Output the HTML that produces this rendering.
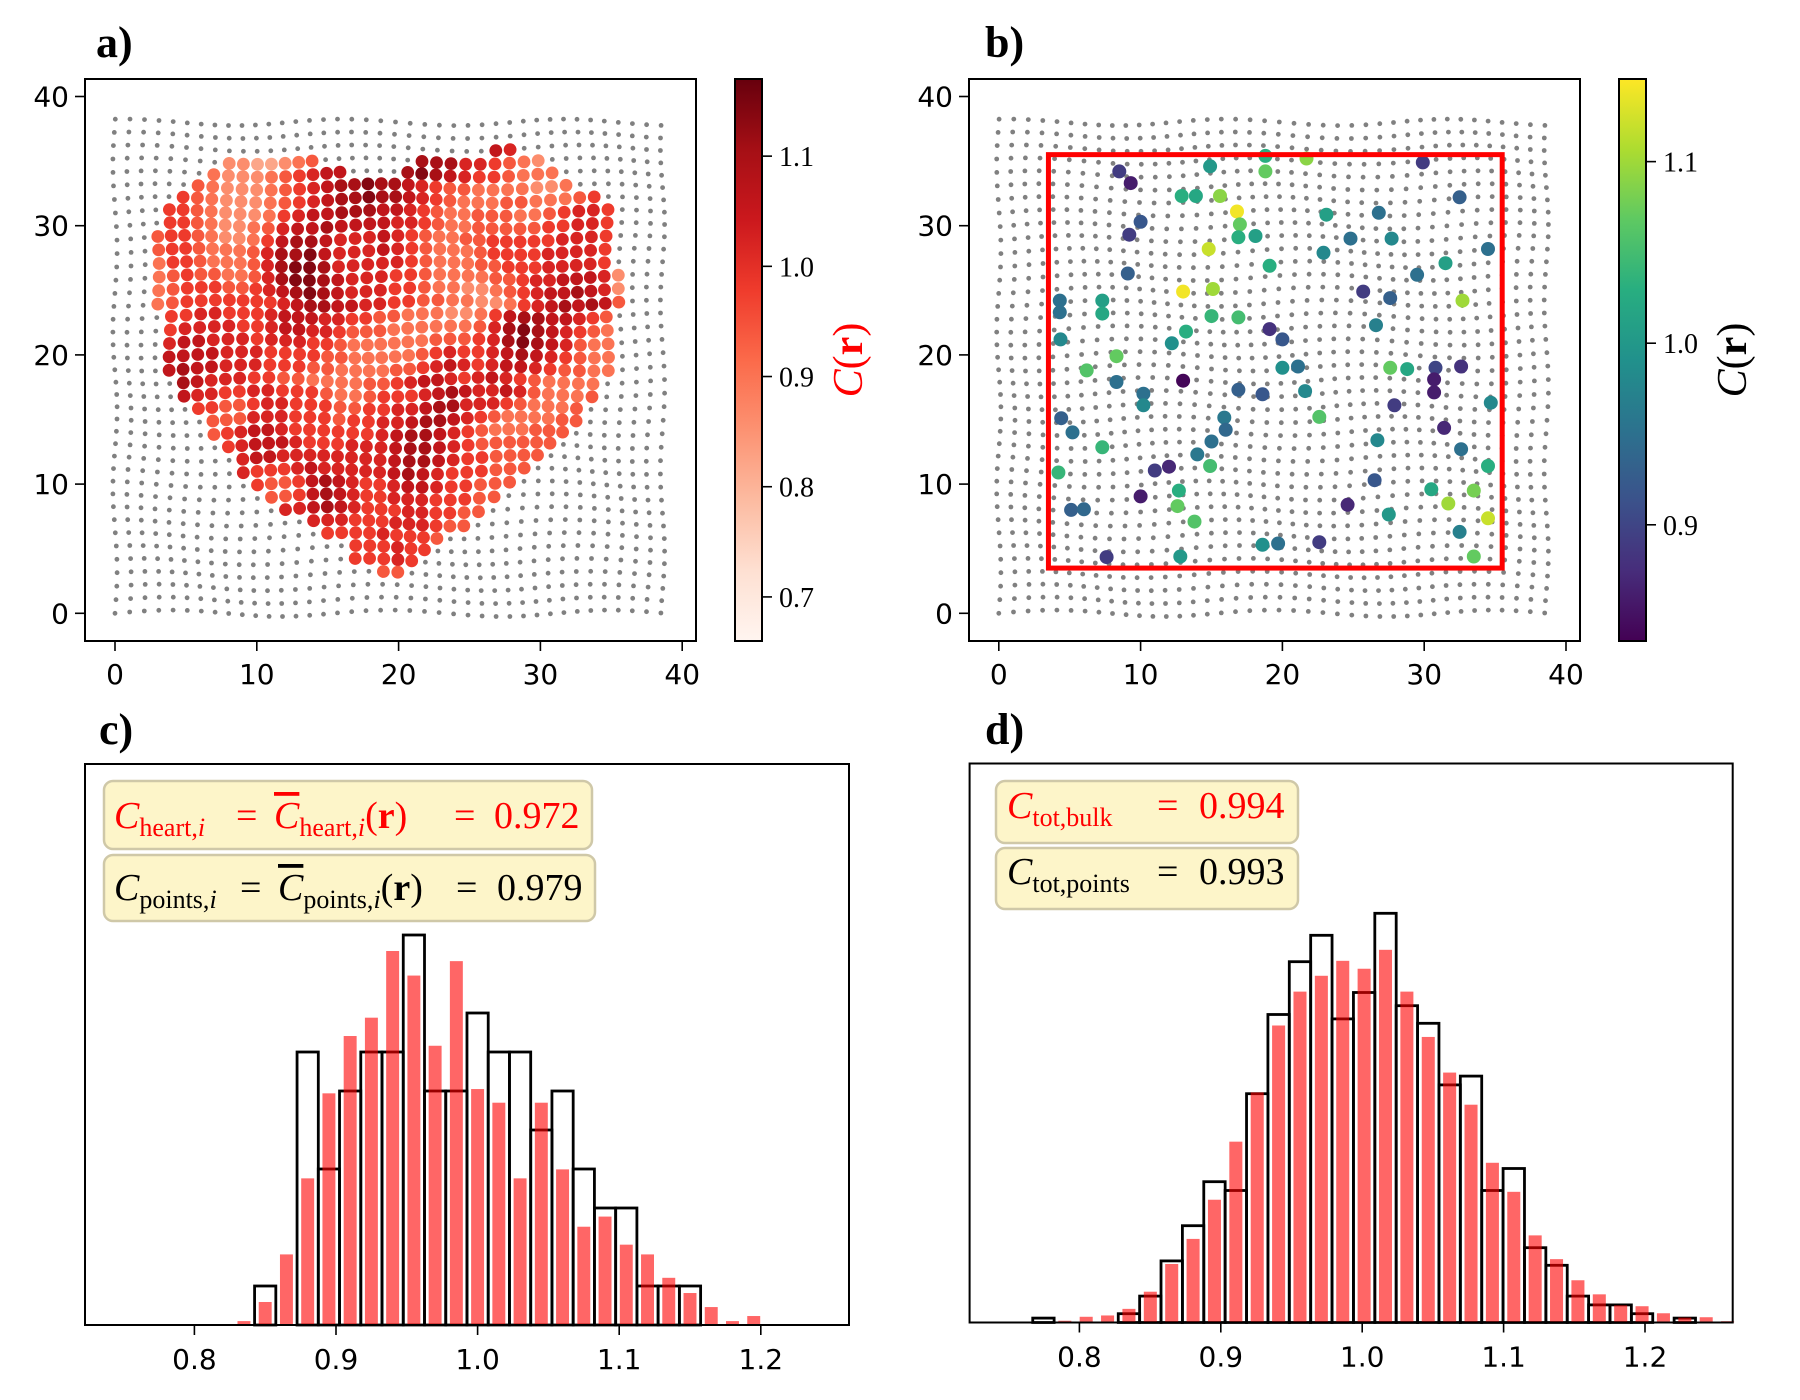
<!DOCTYPE html>
<html><head><meta charset="utf-8"><style>
html,body{margin:0;padding:0;background:#fff;width:1800px;height:1400px;overflow:hidden}
svg text{font-family:"DejaVu Sans","Liberation Sans",sans-serif}
.srf{font-family:"Liberation Serif","DejaVu Serif",serif}
</style></head><body>
<svg id="fig" xmlns="http://www.w3.org/2000/svg" width="1800" height="1400" viewBox="0 0 1800 1400">
<defs>
<linearGradient id="gReds" x1="0" y1="1" x2="0" y2="0">
<stop offset="0" stop-color="#fff5f0"/><stop offset="0.125" stop-color="#fee0d2"/><stop offset="0.25" stop-color="#fcbba1"/><stop offset="0.375" stop-color="#fc9272"/><stop offset="0.5" stop-color="#fb6a4a"/><stop offset="0.625" stop-color="#ef3b2c"/><stop offset="0.75" stop-color="#cb181d"/><stop offset="0.875" stop-color="#a50f15"/><stop offset="1" stop-color="#67000d"/>
</linearGradient>
<linearGradient id="gVir" x1="0" y1="1" x2="0" y2="0">
<stop offset="0" stop-color="#440154"/><stop offset="0.125" stop-color="#472d7b"/><stop offset="0.25" stop-color="#3b528b"/><stop offset="0.375" stop-color="#2c728e"/><stop offset="0.5" stop-color="#21918c"/><stop offset="0.625" stop-color="#28ae80"/><stop offset="0.75" stop-color="#5ec962"/><stop offset="0.875" stop-color="#addc30"/><stop offset="1" stop-color="#fde725"/>
</linearGradient>
</defs>
<text class="srf" x="96" y="57" font-size="44" font-weight="bold">a)</text>
<text class="srf" x="985" y="57" font-size="44" font-weight="bold">b)</text>
<text class="srf" x="99" y="744" font-size="44" font-weight="bold">c)</text>
<text class="srf" x="985" y="744" font-size="44" font-weight="bold">d)</text>
<g id="layer"></g>
</svg>
<script>
// ---------- data ----------
const heartRows = [
"36:27:76","35:8:2211234.......888665432","34:7:3222345677....89876554333",
"33:6:432223456788988765443333223","32:5:543222345678898876543334433345",
"31:4:55432223567788877654334443345665","30:4:55432234677877776654334444455665",
"29:3:455432235788766676543344555556665","28:3:455433346889766676543334555566665",
"27:3:355433346899866666543334455566665","26:3:3454433468998766655433334456677762",
"25:3:3455544567898766655433223456778762","24:3:3455555556788776655443322356787874",
"23:4:55665556777665544333223578877654","22:4:56666556776654443333334689876543",
"21:4:67766656665543333334445689876433","20:4:77776665555443333345655678765433",
"19:4:78776665554433334456765677654433","18:5:876665544333344567765676543333",
"17:5:766556655543345556787667643334","16:6:5544566555445566788666543334",
"15:7:444666555455667887654333344","14:7:45677655555567887654333444",
"13:8:567776555666788765444444","12:9:6776666666678876554444","11:9:655567666667876555444",
"10:10:5445787655677655444","9:11:44578765566655544","8:12:667876555665544",
"7:14:666555666544","6:15:555565554","5:17:555655","4:17:55565","3:19:44"
];
const bX=[18.8,21.7,29.9,8.5,14.9,18.8,9.3,12.9,13.9,15.6,32.5,16.8,23.1,26.8,10.0,17.0,9.2,16.9,18.1,24.8,27.7,34.5,14.8,22.9,31.5,19.1,9.1,29.5,13.0,15.1,25.7,4.3,7.3,27.6,32.7,4.3,7.3,15.0,16.9,26.6,19.1,13.2,4.35,20.0,12.2,8.3,20.0,21.1,27.6,28.8,30.8,32.6,6.2,13.0,8.3,30.7,16.9,10.2,18.6,21.6,30.7,27.9,10.2,34.7,22.6,4.4,15.9,16.0,5.2,31.4,15.0,26.7,7.3,32.6,14.0,14.9,34.5,11.0,12.0,4.2,26.5,12.7,30.5,33.5,10.0,12.6,24.6,31.7,5.1,6.0,27.5,34.5,13.8,32.5,18.6,19.7,22.6,7.6,12.8,33.5];
const bY=[35.4,35.2,34.9,34.2,34.6,34.2,33.3,32.3,32.3,32.3,32.2,31.1,30.85,31.0,30.3,30.1,29.3,29.1,29.2,29.0,29.0,28.2,28.2,27.9,27.1,26.9,26.3,26.2,24.9,25.1,24.9,24.2,24.2,24.4,24.2,23.3,23.2,23.0,22.9,22.3,22.0,21.8,21.2,21.2,20.9,19.9,19.0,19.1,19.0,18.9,19.0,19.1,18.8,18.0,17.9,18.1,17.3,17.0,16.95,17.2,17.1,16.1,16.1,16.3,15.2,15.1,15.15,14.2,14.0,14.35,13.3,13.4,12.85,12.7,12.3,11.4,11.4,11.05,11.35,10.9,10.3,9.5,9.6,9.5,9.05,8.3,8.4,8.5,8.0,8.05,7.65,7.35,7.1,6.3,5.3,5.4,5.5,4.35,4.4,4.4];
const bC=[1.03,1.09,0.89,0.89,1.0,1.07,0.86,1.03,1.02,1.09,0.93,1.14,1.01,0.95,0.92,1.07,0.89,1.03,1.01,0.95,0.98,0.95,1.12,0.98,1.01,1.03,0.93,0.95,1.14,1.10,0.89,0.95,1.01,0.93,1.10,0.95,1.02,1.04,1.05,0.97,0.88,1.03,0.98,0.92,0.99,1.07,0.99,0.95,1.07,1.02,0.90,0.88,1.06,0.84,0.95,0.86,0.93,0.95,0.92,0.98,0.86,0.89,0.98,0.98,1.06,0.93,0.96,0.94,0.95,0.87,0.95,0.98,1.04,0.95,0.96,1.05,1.03,0.89,0.87,1.04,0.92,1.03,1.02,1.08,0.86,1.07,0.87,1.10,0.93,0.94,1.0,1.12,1.06,0.97,0.99,0.95,0.89,0.89,1.0,1.07];
const boxRect=[3.5,3.5,35.5,35.5];
// panel c histograms
const cStart=0.8275, cWidth=0.015;
const cBlack=[0,1,0,7,4,6,7,7,10,6,6,8,7,7,5,6,4,3,3,1,1,1];
const cRed=[0.10,0.59,1.81,3.76,5.94,7.41,7.88,9.59,8.96,7.16,9.33,6.05,5.70,3.76,5.70,3.99,2.52,2.78,2.06,1.81,1.21,0.82,0.46,0.10,0.23];
// panel d histograms
const dStart=0.767, dWidth=0.01512;
const dBlack=[1,0,0,0,2,6,14,22,32,30,52,70,82,88,69,75,93,72,68,54,56,30,35,17,13,6,4,4,2,0,1];
const dRed=[0,0.4,1.3,1.6,3.1,7.0,13.3,19.0,27.9,41.1,52.3,67.5,75.2,78.8,82.2,80.4,84.7,75.2,64.9,56.8,49.5,36.3,29.7,19.8,14.4,9.6,6.4,3.9,3.7,2.1,1.1,1.2,0.3];
const xTicksMap=[0,10,20,30,40], yTicksMap=[0,10,20,30,40];
const cbATicks=[0.7,0.8,0.9,1.0,1.1], cbBTicks=[0.9,1.0,1.1];
const histTicks=[0.8,0.9,1.0,1.1,1.2];

// ---------- helpers ----------
const NS="http://www.w3.org/2000/svg";
const layer=document.getElementById('layer');
function el(tag,attrs,parent){const e=document.createElementNS(NS,tag);for(const k in attrs)e.setAttribute(k,attrs[k]);(parent||layer).appendChild(e);return e;}
function lerpStops(stops,t){t=Math.max(0,Math.min(1,t));const n=stops.length-1;const f=t*n;const i=Math.min(n-1,Math.floor(f));const u=f-i;const a=stops[i],b=stops[i+1];
 const p=h=>[parseInt(h.substr(1,2),16),parseInt(h.substr(3,2),16),parseInt(h.substr(5,2),16)];const A=p(a),B=p(b);
 return 'rgb('+A.map((v,k)=>Math.round(v+(B[k]-v)*u)).join(',')+')';}
const REDS=["#fff5f0","#fee0d2","#fcbba1","#fc9272","#fb6a4a","#ef3b2c","#cb181d","#a50f15","#67000d"];
const VIR=["#440154","#472d7b","#3b528b","#2c728e","#21918c","#28ae80","#5ec962","#addc30","#fde725"];
const redsMin=0.660, redsMax=1.170, virMin=0.836, virMax=1.1455;

const mapX=[115,998.8], mapY0=613.3, mapSx=14.18, mapSy=12.92;
function mx(p,v){return mapX[p]+v*mapSx;}
function my(v){return mapY0-v*mapSy;}
function lat(i,j){return [0.99*i+0.15*Math.sin(0.5*j+0.3*i), 1.0*j+0.25*Math.sin(0.4*i+0.2*j)];}

function frame(x0,y0,x1,y1,name){const r=el('rect',{x:x0,y:y0,width:x1-x0,height:y1-y0,fill:'none',stroke:'#000','stroke-width':2});
 }
function tickLabel(x,y,t,anchor,name,cls){const e=el('text',{x:x,y:y,'font-size':28,'text-anchor':anchor});if(cls)e.setAttribute('class',cls);e.textContent=t;
 return e;}

// ---------- panels a & b ----------
[0,1].forEach(p=>{
 const g=el('g',{});
 
 
 for(let i=0;i<40;i++)for(let j=0;j<39;j++){const q=lat(i,j);
  const c=el('circle',{cx:mx(p,q[0]).toFixed(1),cy:my(q[1]).toFixed(1),r:2.4,fill:'#808080'},g);
  }
});
// heart
const hg=el('g',{});


heartRows.forEach(row=>{const parts=row.split(':');const j=+parts[0],x0=+parts[1],s=parts[2];
 for(let k=0;k<s.length;k++){if(s[k]==='.')continue;const i=x0+k;const v=0.78+0.04*(+s[k]);const q=lat(i,j);
  const c=el('circle',{cx:mx(0,q[0]).toFixed(1),cy:my(q[1]).toFixed(1),r:6.4,fill:lerpStops(REDS,(v-redsMin)/(redsMax-redsMin))},hg);
  }});
// panel b points
const bg=el('g',{});


bX.forEach((x,k)=>{const c=el('circle',{cx:mx(1,x).toFixed(1),cy:my(bY[k]).toFixed(1),r:7,fill:lerpStops(VIR,(bC[k]-virMin)/(virMax-virMin))},bg);
 });
const br=el('rect',{x:mx(1,boxRect[0]),y:my(boxRect[3]),width:(boxRect[2]-boxRect[0])*mapSx,height:(boxRect[3]-boxRect[1])*mapSy,fill:'none',stroke:'#ff0000','stroke-width':5});


[[85,696,0,'a'],[969,1580,1,'b']].forEach(([x0,x1,p,n])=>{
 frame(x0,79,x1,641,'panel-'+n+'-axes');
 xTicksMap.forEach(v=>{const x=mx(p,v);el('line',{x1:x,y1:641,x2:x,y2:651,stroke:'#000','stroke-width':1.6});
  tickLabel(x,684,String(v),'middle','x-tick-label');});
 yTicksMap.forEach(v=>{const y=my(v);el('line',{x1:x0,y1:y,x2:x0-10,y2:y,stroke:'#000','stroke-width':1.6});
  tickLabel(x0-16,y+10,String(v),'end','y-tick-label');});
});
// colorbars
function colorbar(x0,x1,grad,vmin,vmax,ticks,name){
 const r=el('rect',{x:x0,y:79,width:x1-x0,height:562,fill:'url(#'+grad+')',stroke:'#000','stroke-width':2});
 
 ticks.forEach(v=>{const y=641-(v-vmin)/(vmax-vmin)*562;el('line',{x1:x1,y1:y,x2:x1+10,y2:y,stroke:'#000','stroke-width':1.6});
  tickLabel(x1+17,y+10,v.toFixed(1),'start','colorbar-tick-label','srf');});
}
colorbar(735,762,'gReds',redsMin,redsMax,cbATicks,'colorbar-a');
colorbar(1619,1646,'gVir',virMin,virMax,cbBTicks,'colorbar-b');
function cbLabel(x,y,color,name){const t=el('text',{x:x,y:y,'font-size':42,fill:color,'text-anchor':'middle',transform:'rotate(-90 '+x+' '+y+')',class:'srf'});
 t.innerHTML='<tspan font-style="italic">C</tspan>(<tspan font-weight="bold">r</tspan>)';
 }
cbLabel(862,360,'#ff0000','colorbar-a-label');
cbLabel(1746,360,'#000000','colorbar-b-label');

// ---------- histograms ----------
function hist(cfg){
 const {x0,x1,top,base,v0,sx,unit,start,w,black,red,name}=cfg;
 const X=v=>v0+(v-0.8)*sx, Y=c=>base-c*unit;
 const g=el('g',{});
 black.forEach((c,k)=>{if(c<=0)return;const a=X(start+k*w),b=X(start+(k+1)*w);
  const r=el('rect',{x:a,y:Y(c),width:b-a,height:c*unit,fill:'none',stroke:'#000','stroke-width':2.8},g);
  });
 const g2=el('g',{});
 red.forEach((c,k)=>{if(c<=0)return;const cx=start+(k+0.5)*w;const a=X(cx-0.305*w),b=X(cx+0.305*w);
  const r=el('rect',{x:a,y:Y(c),width:b-a,height:c*unit,fill:'#ff0000','fill-opacity':0.6},g2);
  });
 frame(x0,top,x1,base,name+'-axes');
 histTicks.forEach(v=>{const x=X(v);el('line',{x1:x,y1:base,x2:x,y2:base+10,stroke:'#000','stroke-width':1.6});
  tickLabel(x,base+44,v.toFixed(1),'middle','x-tick-label');});
}
hist({x0:85,x1:849,top:764,base:1325,v0:194.4,sx:1416,unit:39,start:cStart,w:cWidth,black:cBlack,red:cRed,name:'panel-c'});
hist({x0:969.6,x1:1732.7,top:763.5,base:1322.5,v0:1079.4,sx:1414,unit:4.4,start:dStart,w:dWidth,black:dBlack,red:dRed,name:'panel-d'});

// ---------- annotation boxes ----------
function box(x0,y0,x1,y1,name){const r=el('rect',{x:x0,y:y0,width:x1-x0,height:y1-y0,rx:9,fill:'#fdf5c9',stroke:'#cfc8a8','stroke-width':2.5});
 }
function txt(x,y,html,color,name){const t=el('text',{x:x,y:y,'font-size':38,fill:color,class:'srf'});t.innerHTML=html;
 }
const sub='font-size="26" dy="8"';
box(104,781,592,849,'heart-mean-box');
txt(114,828,'<tspan font-style="italic">C</tspan><tspan '+sub+'>heart,<tspan font-style="italic">i</tspan></tspan>','#ff0000','heart-mean-lhs');
txt(236,828,'=','#ff0000','heart-eq1');
txt(274,828,'<tspan font-style="italic" text-decoration="overline">C</tspan><tspan '+sub+'>heart,<tspan font-style="italic">i</tspan></tspan><tspan dy="-8">(<tspan font-weight="bold">r</tspan>)</tspan>','#ff0000','heart-mean-field');
txt(454,828,'=','#ff0000','heart-eq2');
txt(494,828,'0.972','#ff0000','heart-mean-value');
box(104,855,595,921,'points-mean-box');
txt(114,900,'<tspan font-style="italic">C</tspan><tspan '+sub+'>points,<tspan font-style="italic">i</tspan></tspan>','#000','points-mean-lhs');
txt(240,900,'=','#000','points-eq1');
txt(278,900,'<tspan font-style="italic" text-decoration="overline">C</tspan><tspan '+sub+'>points,<tspan font-style="italic">i</tspan></tspan><tspan dy="-8">(<tspan font-weight="bold">r</tspan>)</tspan>','#000','points-mean-field');
txt(456,900,'=','#000','points-eq2');
txt(497,900,'0.979','#000','points-mean-value');
box(996,781,1298,843,'bulk-total-box');
txt(1007,818,'<tspan font-style="italic">C</tspan><tspan '+sub+'>tot,bulk</tspan>','#ff0000','bulk-total-lhs');
txt(1157,818,'=','#ff0000','bulk-eq');
txt(1199,818,'0.994','#ff0000','bulk-total-value');
box(996,848,1298,909,'points-total-box');
txt(1007,884,'<tspan font-style="italic">C</tspan><tspan '+sub+'>tot,points</tspan>','#000','points-total-lhs');
txt(1157,884,'=','#000','points-total-eq');
txt(1199,884,'0.993','#000','points-total-value');
</script>
</body></html>
